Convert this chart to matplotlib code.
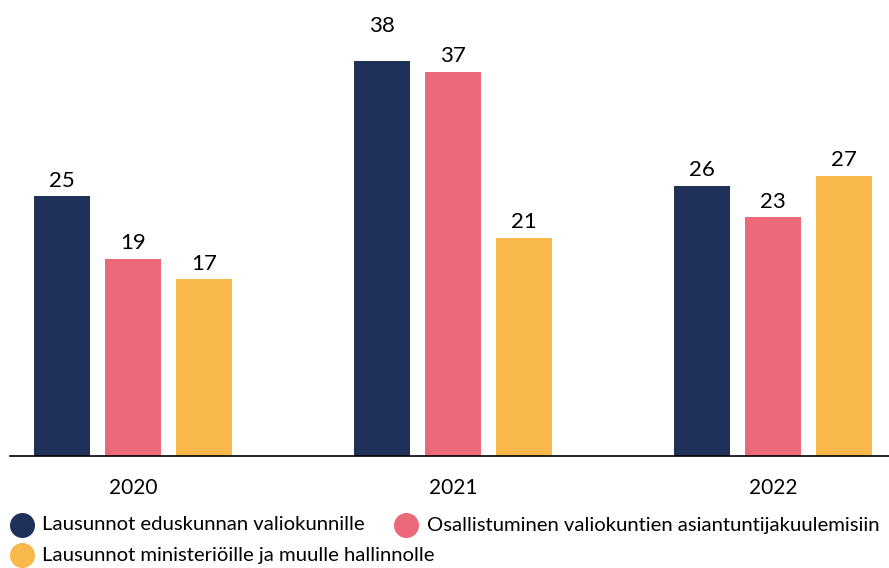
import matplotlib
matplotlib.use('Agg')

import numpy as np
import matplotlib.pyplot as plt
from matplotlib.lines import Line2D

# Data
years = ['2020', '2021', '2022']
series = ['Lausunnot eduskunnan valiokunnille',
          'Osallistuminen valiokuntien asiantuntijakuulemisiin',
          'Lausunnot ministeriöille ja muulle hallinnolle']
valiokunnat = [25, 38, 26]
kuulemiset = [19, 37, 23]
ministeriot = [17, 21, 27]
colors = ['#1f3158', '#ec697a', '#f9b84b']

plt.rcParams['font.family'] = ['Lato', 'DejaVu Sans']

fig = plt.figure(figsize=(8.89, 5.68), dpi=100)
ax = fig.add_axes([10 / 889, 112 / 568, 879 / 889, 456 / 568])

x = np.arange(len(years))
width = 0.175
step = 0.222
top = max(valiokunnat + kuulemiset + ministeriot)
for i, (vals, c) in enumerate(zip([valiokunnat, kuulemiset, ministeriot], colors)):
    pos = x + (i - 1) * step
    ax.bar(pos, vals, width, color=c)
    for p, v in zip(pos, vals):
        # the tallest label sits a bit higher in the original
        off = 18 if v == top else 4
        ax.annotate(str(v), (p, v), xytext=(0, off), textcoords='offset points',
                    ha='center', va='bottom', fontsize=16)

ax.set_xlim(-0.384, 2.3625)
ax.set_ylim(0, 43.9)
for s in ['top', 'right', 'left']:
    ax.spines[s].set_visible(False)
ax.spines['bottom'].set_linewidth(1.2)
ax.set_yticks([])
ax.set_xticks(x)
ax.set_xticklabels(years, fontsize=15)
ax.tick_params(axis='x', length=0, pad=16)

# Legend laid out by hand (flowing, not in columns)
leg = [(22, 525, 42, 0), (406, 525, 427, 1), (22, 555, 42, 2)]
for cx, cy, tx, i in leg:
    fig.add_artist(Line2D([cx / 889], [1 - cy / 568], marker='o', markersize=17,
                          color=colors[i], linestyle='None', transform=fig.transFigure))
    fig.text(tx / 889, 1 - cy / 568, series[i], fontsize=14.6, va='center', ha='left')

fig.savefig('out.png')
